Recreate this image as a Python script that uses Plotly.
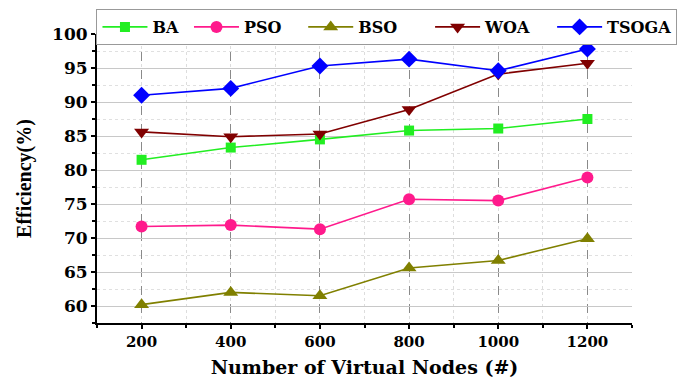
import plotly.graph_objects as go

nodes = [200, 400, 600, 800, 1000, 1200]
ba = [81.5, 83.3, 84.5, 85.8, 86.1, 87.5]
pso = [71.7, 71.9, 71.3, 75.7, 75.5, 78.9]
bso = [60.2, 62.0, 61.5, 65.6, 66.7, 69.9]
woa = [85.6, 84.9, 85.3, 88.9, 94.1, 95.7]
tsoga = [91.0, 92.0, 95.3, 96.3, 94.6, 97.8]
names = ["BA", "PSO", "BSO", "WOA", "TSOGA"]

NB = "\u00a0"
pad = {"BA": 1, "PSO": 3, "BSO": 5, "WOA": 3, "TSOGA": 0}

series = [
    (names[0], ba, "#22ee22", "square", 10),
    (names[1], pso, "#ff1a8c", "circle", 12),
    (names[2], bso, "#808000", "triangle-up", 13),
    (names[3], woa, "#800000", "triangle-down", 13),
    (names[4], tsoga, "#0000ff", "diamond", 13),
]

fig = go.Figure()
for name, vals, color, sym, sz in series:
    fig.add_trace(go.Scatter(
        x=nodes, y=vals, name=name + NB * pad[name], mode="lines+markers",
        line=dict(color=color, width=1.6),
        marker=dict(symbol=sym, size=sz, color=color),
    ))

tickfont = dict(family="DejaVu Serif", size=15, color="black")
fig.update_layout(
    width=685, height=385,
    paper_bgcolor="white", plot_bgcolor="white",
    margin=dict(l=89, r=61, t=26, b=70, autoexpand=False),
    showlegend=True,
    legend=dict(
        orientation="h", x=-0.001, xanchor="left", y=1.0865, yanchor="top",
        bordercolor="#999999", borderwidth=1, bgcolor="white",
        font=dict(family="DejaVu Serif", size=16, color="black", weight="bold"),
        itemwidth=45, tracegroupgap=0,
    ),
    xaxis=dict(
        range=[100, 1300], tickmode="array", tickvals=nodes,
        ticktext=[str(n) for n in nodes],
        showline=True, linecolor="black", linewidth=2,
        ticks="outside", ticklen=4, tickwidth=1.5, tickcolor="black",
        tickfont=dict(tickfont, weight="bold"),
        showgrid=True, gridcolor="#8a8a8a", griddash="dash", gridwidth=1,
        zeroline=False,
        minor=dict(dtick=100, tick0=100, ticks="outside", ticklen=3, tickcolor="black",
                   showgrid=True, gridcolor="#dddddd", griddash="dot", gridwidth=1),
        title=dict(text="Number of Virtual Nodes (#)", standoff=11,
                   font=dict(family="DejaVu Serif", size=19, color="black", weight="bold")),
    ),
    yaxis=dict(
        range=[57.5, 100], dtick=5, tick0=60,
        showline=True, linecolor="black", linewidth=2,
        ticks="outside", ticklen=4, tickwidth=1.5, tickcolor="black",
        tickfont=dict(tickfont, size=17, weight="bold"),
        showgrid=True, gridcolor="#c8c8c8", gridwidth=1,
        zeroline=False,
        minor=dict(dtick=2.5, tick0=57.5, ticks="outside", ticklen=3, tickcolor="black",
                   showgrid=True, gridcolor="#e0e0e0", griddash="dot", gridwidth=1),
        title=dict(text="Efficiency(%)", standoff=15,
                   font=dict(family="Liberation Serif", size=20, color="black", weight="bold")),
    ),
)

fig.write_html("out.html")
